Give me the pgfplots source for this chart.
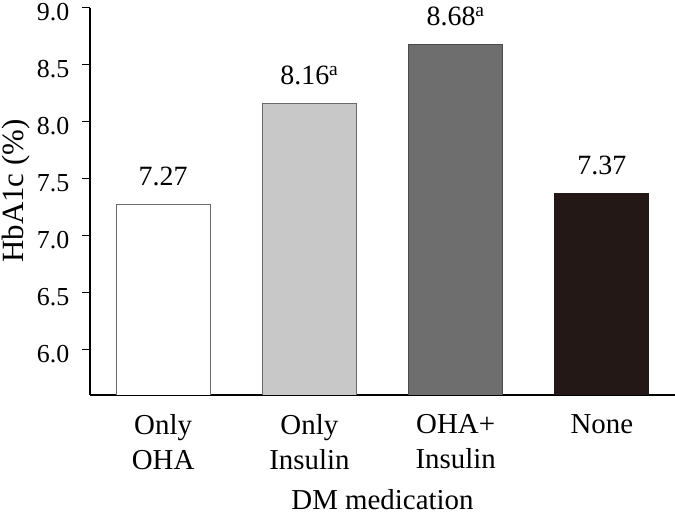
\documentclass[border=0pt]{standalone}
\usepackage{fontspec}
\setmainfont{Liberation Serif}
\usepackage{pgfplots}
\pgfplotsset{compat=1.18}
\definecolor{barA}{HTML}{FFFFFF}
\definecolor{barB}{HTML}{C8C8C8}
\definecolor{barC}{HTML}{6E6E6E}
\definecolor{barD}{HTML}{231815}
\definecolor{edge}{HTML}{6A6A6A}
\newcommand{\tickf}{\fontsize{26}{32}\selectfont}
\newcommand{\valf}{\fontsize{28}{32}\selectfont}
\newcommand{\labf}{\fontsize{29}{35}\selectfont}
\newcommand{\ylabf}{\fontsize{31}{35}\selectfont}
\begin{document}
\begin{tikzpicture}[x=1bp,y=1bp]
\useasboundingbox (0,0) rectangle (675,518);
\begin{axis}[
  at={(90bp,123bp)}, anchor=south west,
  scale only axis, width=585bp, height=387bp,
  xmin=-0.5, xmax=3.5, ymin=5.6, ymax=9.0,
  axis x line*=bottom, axis y line*=left,
  axis line style={-, line width=1.2pt, black},
  xtick={0,1,2,3},
  xticklabels={{Only\\OHA},{Only\\Insulin},{OHA+\\Insulin},{None}},
  xticklabel style={align=center, anchor=north, yshift=-8bp, font=\labf},
  major x tick style={draw=none},
  ytick={6.0,6.5,7.0,7.5,8.0,8.5,9.0},
  yticklabel style={font=\tickf, inner sep=0pt, yshift=-4.5bp, xshift=-12.5bp, /pgf/number format/fixed, /pgf/number format/precision=1, /pgf/number format/fixed zerofill},
  /pgf/number format/assume math mode=true,
  tick align=outside, major tick length=8bp,
  major y tick style={line width=1pt, black},
  xlabel={DM medication}, ylabel={HbA1c (\%)},
  every axis x label/.style={at={(axis description cs:0.5,-0.296)}, anchor=base, inner sep=0pt, font=\labf},
  every axis y label/.style={at={(axis description cs:-0.1265,0.527)}, anchor=center, rotate=90, font=\ylabf},
  ybar, bar width=94bp,
  nodes near coords, point meta=explicit symbolic,
  nodes near coords style={font=\valf, anchor=base, inner sep=0pt, yshift=19bp},
]
\addplot[bar shift=0pt, fill=barA, draw=edge, line width=0.9pt] coordinates {(0,7.27) [7.27]};
\addplot[bar shift=0pt, fill=barB, draw=edge, line width=0.9pt] coordinates {(1,8.16) [8.16\textsuperscript{a}]};
\addplot[bar shift=0pt, fill=barC, draw=edge!70!black, line width=0.9pt] coordinates {(2,8.68) [8.68\textsuperscript{a}]};
\addplot[bar shift=0pt, fill=barD, draw=barD, line width=0.9pt] coordinates {(3,7.37) [7.37]};
\end{axis}
\end{tikzpicture}
\end{document}
